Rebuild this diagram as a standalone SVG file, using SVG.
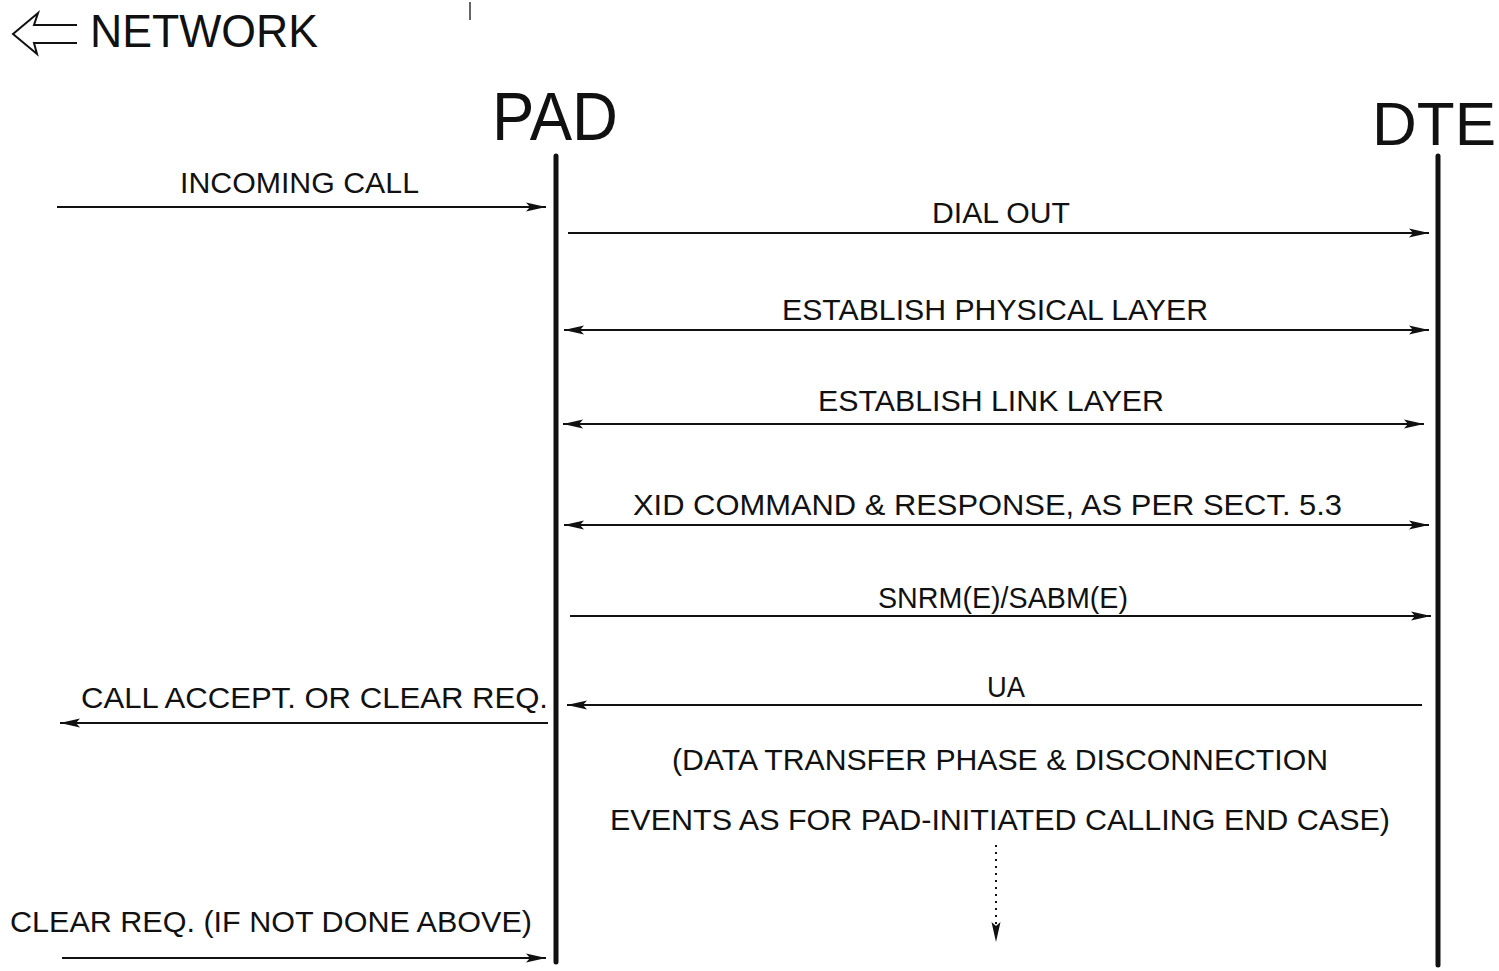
<svg xmlns="http://www.w3.org/2000/svg" width="1499" height="971" viewBox="0 0 1499 971">
<defs>
<style>
text{font-family:"Liberation Sans",Arial,sans-serif;fill:#111;}
.lbl{font-size:30px;}
.big{font-weight:normal;}
.life{stroke:#111;stroke-width:5;stroke-linecap:round;}
.msg{stroke:#111;stroke-width:2;fill:none;}
</style>
<marker id="ah" viewBox="0 0 20 10" refX="20" refY="5" markerWidth="20" markerHeight="10" markerUnits="userSpaceOnUse" orient="auto-start-reverse">
<path d="M0,0.5 L20,5 L0,9.5 L4,5 Z" fill="#111"/>
</marker>
<marker id="ahs" viewBox="0 0 10 20" refX="5" refY="20" markerWidth="10" markerHeight="20" markerUnits="userSpaceOnUse" orient="0">
<path d="M0.5,0 L5,20 L9.5,0 L5,4 Z" fill="#111"/>
</marker>
</defs>
<rect width="1499" height="971" fill="#fff"/>
<g id="network">
<path d="M77,25 H34 L38,13 L13,34 L37,54 L34,43 H77" fill="none" stroke="#111" stroke-width="2" stroke-linejoin="miter"/>
<text x="90" y="47" font-size="46" textLength="228" lengthAdjust="spacingAndGlyphs">NETWORK</text>
<line x1="470" y1="2" x2="470" y2="20" stroke="#333" stroke-width="1.5"/>
</g>
<g id="pad">
<text class="big" x="492" y="140" font-size="68" textLength="126" lengthAdjust="spacingAndGlyphs">PAD</text>
<line class="life" x1="556" y1="156" x2="556" y2="962"/>
</g>
<g id="dte">
<text class="big" x="1372" y="145" font-size="62">DTE</text>
<line class="life" x1="1438" y1="156" x2="1438" y2="965"/>
</g>
<g id="connectors">
<line class="msg" x1="57" y1="207" x2="546" y2="207" marker-end="url(#ah)"/>
<line class="msg" x1="568" y1="233" x2="1429" y2="233" marker-end="url(#ah)"/>
<line class="msg" x1="564" y1="330" x2="1429" y2="330" marker-start="url(#ah)" marker-end="url(#ah)"/>
<line class="msg" x1="563" y1="424" x2="1424" y2="424" marker-start="url(#ah)" marker-end="url(#ah)"/>
<line class="msg" x1="564" y1="525" x2="1429" y2="525" marker-start="url(#ah)" marker-end="url(#ah)"/>
<line class="msg" x1="570" y1="616" x2="1431" y2="616" marker-end="url(#ah)"/>
<line class="msg" x1="1422" y1="705" x2="567" y2="705" marker-end="url(#ah)"/>
<line class="msg" x1="548" y1="723" x2="60" y2="723" marker-end="url(#ah)"/>
<line class="msg" x1="996" y1="845" x2="996" y2="942" stroke-dasharray="2,5" marker-end="url(#ahs)"/>
<line class="msg" x1="62" y1="958" x2="546" y2="958" marker-end="url(#ah)"/>
</g>
<g id="labels">
<text class="lbl" x="180" y="193" textLength="239" lengthAdjust="spacingAndGlyphs">INCOMING CALL</text>
<text class="lbl" x="932" y="223" textLength="138" lengthAdjust="spacingAndGlyphs">DIAL OUT</text>
<text class="lbl" x="782" y="320" textLength="426" lengthAdjust="spacingAndGlyphs">ESTABLISH PHYSICAL LAYER</text>
<text class="lbl" x="818" y="411" textLength="346" lengthAdjust="spacingAndGlyphs">ESTABLISH LINK LAYER</text>
<text class="lbl" x="633" y="515" textLength="709" lengthAdjust="spacingAndGlyphs">XID COMMAND &amp; RESPONSE, AS PER SECT. 5.3</text>
<text class="lbl" x="878" y="608" textLength="250" lengthAdjust="spacingAndGlyphs">SNRM(E)/SABM(E)</text>
<text class="lbl" x="987" y="697" textLength="38" lengthAdjust="spacingAndGlyphs">UA</text>
<text class="lbl" x="81" y="708" textLength="467" lengthAdjust="spacingAndGlyphs">CALL ACCEPT. OR CLEAR REQ.</text>
<text class="lbl" x="672" y="770" textLength="656" lengthAdjust="spacingAndGlyphs">(DATA TRANSFER PHASE &amp; DISCONNECTION</text>
<text class="lbl" x="610" y="830" textLength="780" lengthAdjust="spacingAndGlyphs">EVENTS AS FOR PAD-INITIATED CALLING END CASE)</text>
<text class="lbl" x="10" y="932" textLength="522" lengthAdjust="spacingAndGlyphs">CLEAR REQ. (IF NOT DONE ABOVE)</text>
</g>
</svg>
